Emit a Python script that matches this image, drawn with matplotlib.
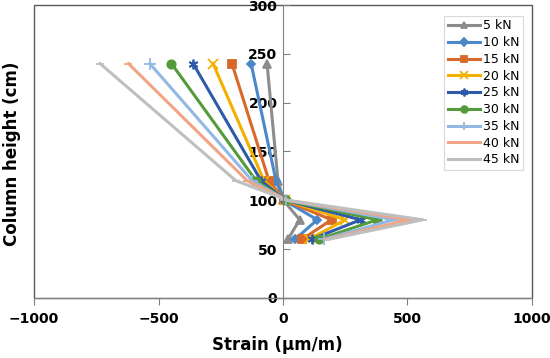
import matplotlib
matplotlib.use('Agg')
import matplotlib.pyplot as plt
from matplotlib.patches import Rectangle

# column heights (cm) where gauges sit
heights = [240, 120, 100, 80, 60]

labels = ['5 kN', '10 kN', '15 kN', '20 kN', '25 kN', '30 kN', '35 kN', '40 kN', '45 kN']

# strain (um/m) for each load, same order as heights
strain_5 = [-64, -20, 2, 67, 20]
strain_10 = [-128, -28, 4, 138, 48]
strain_15 = [-205, -56, 6, 195, 77]
strain_20 = [-281, -76, 8, 251, 104]
strain_25 = [-361, -88, 10, 312, 115]
strain_30 = [-448, -108, 12, 379, 144]
strain_35 = [-535, -124, 14, 445, 164]
strain_40 = [-621, -144, 16, 505, 176]
strain_45 = [-735, -189, 18, 562, 184]
strains = [strain_5, strain_10, strain_15, strain_20, strain_25,
           strain_30, strain_35, strain_40, strain_45]

colors = ['#8c8c8c', '#4a88c7', '#d9692a', '#f2b100', '#2e5aa8',
          '#559a3b', '#92b9e3', '#f2a584', '#bfbfbf']
markers = ['^', 'D', 's', 'x', (6, 2, 0), 'o', '+', '_', '_']
msizes = [6, 4.5, 6, 7, 7, 6, 8, 6, 6]

plt.rcParams['font.family'] = 'DejaVu Sans'
fig = plt.figure(figsize=(5.5, 3.58), dpi=100)
ax = fig.add_axes([0.062, 0.168, 0.905, 0.818])

for s, lab, c, m, ms in zip(strains, labels, colors, markers, msizes):
    ax.plot(s, heights, color=c, lw=2.2, marker=m, ms=ms, mew=1.3,
            mfc=c, mec=c, label=lab, solid_joinstyle='round')

ax.set_xlim(-1000, 1000)
ax.set_ylim(0, 300)
ax.set_xticks([-1000, -500, 0, 500, 1000])
ax.set_yticks(range(0, 301, 50))

for sp in ['top', 'right']:
    ax.spines[sp].set_visible(False)
ax.spines['left'].set_position(('data', 0))
ax.spines['left'].set_color('#808080')
ax.spines['bottom'].set_color('#808080')
ax.add_patch(Rectangle((0, 0), 1, 1, transform=ax.transAxes, fill=False,
                       ec='#595959', lw=1, clip_on=False, zorder=0))

ax.tick_params(axis='y', direction='in', length=5, color='#808080',
               labelsize=10, pad=4)
ax.tick_params(axis='x', direction='out', length=5, color='#808080',
               labelsize=10, pad=5)
for t in ax.get_xticklabels() + ax.get_yticklabels():
    t.set_fontweight('bold')

fig.text(0.505, 0.035, 'Strain (μm/m)', ha='center', va='center',
         fontsize=12, fontweight='bold')
fig.text(0.022, 0.57, 'Column height (cm)', ha='center', va='center',
         rotation=90, fontsize=12, fontweight='bold')

leg = ax.legend(loc='upper right', bbox_to_anchor=(0.995, 0.985), fontsize=9,
                handlelength=2.6, handletextpad=0.2, labelspacing=0.3,
                borderpad=0.3, fancybox=False, framealpha=1, markerscale=0.8)
leg.get_frame().set_edgecolor('#d9d9d9')
leg.get_frame().set_linewidth(0.8)

fig.savefig('out.png', dpi=100)
